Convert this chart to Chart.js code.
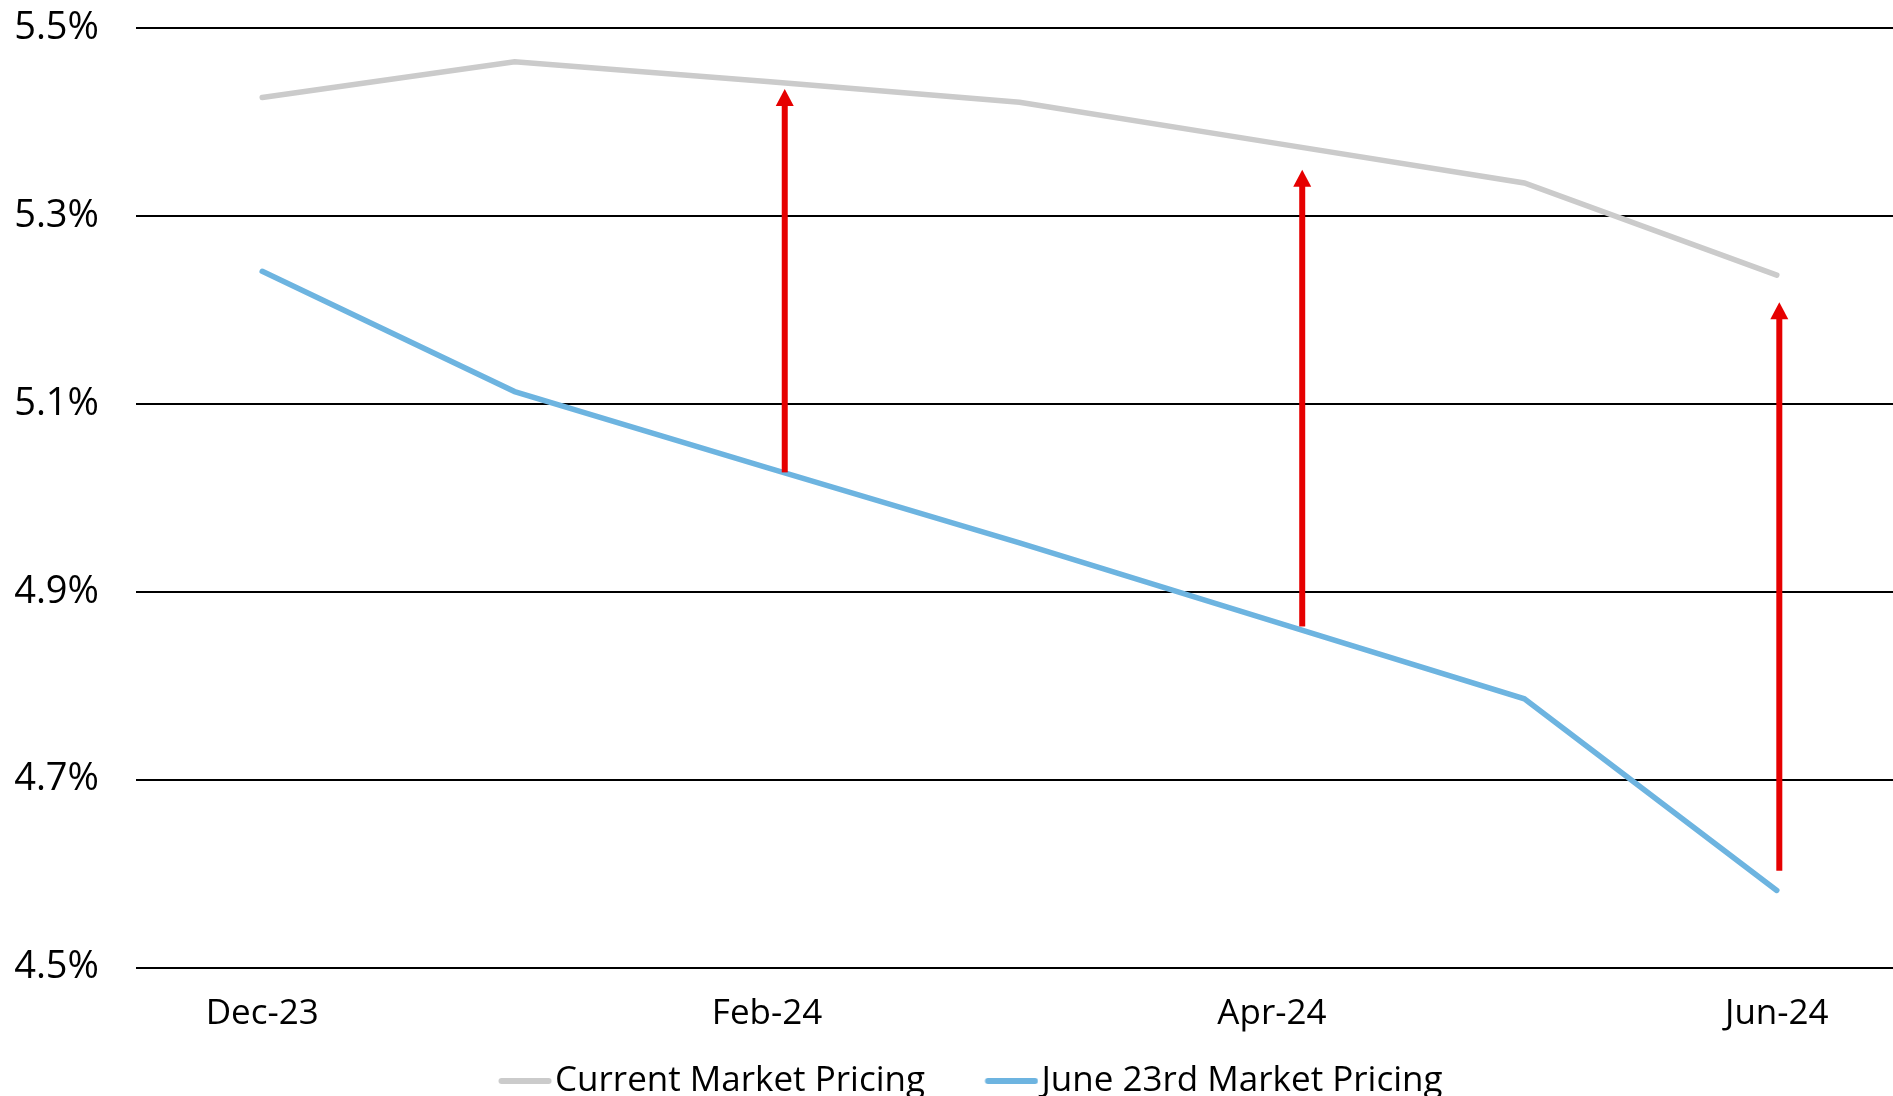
<!DOCTYPE html>
<html>
<head>
<meta charset="utf-8">
<script src="https://cdn.jsdelivr.net/npm/chart.js@4"></script>
<style>
  html, body { margin: 0; padding: 0; background: #fff; overflow: hidden; }
  #wrap { width: 1903px; height: 1096px; }
</style>
</head>
<body>
<div id="wrap"><canvas id="myChart"></canvas></div>
<script>
let labels = ['Dec-23', 'Jan-24', 'Feb-24', 'Mar-24', 'Apr-24', 'May-24', 'Jun-24'];
let currentPricing = [5.426, 5.464, 5.443, 5.421, 5.378, 5.335, 5.237];
let june23Pricing = [5.241, 5.113, 5.032, 4.952, 4.869, 4.786, 4.582];
let yTicks = [4.5, 4.7, 4.9, 5.1, 5.3, 5.5];

// red arrows: position on the category axis, start value, end value
let arrowAt = [2.07, 4.12, 6.01];
let arrowFrom = [5.027, 4.863, 4.603];
let arrowTo = [5.435, 5.349, 5.208];

let font = { family: 'Open Sans', size: 35 };
let leftPad = 10;

// legend swatch: a short line sitting close to its text
function legendLine(color) {
  let c = document.createElement('canvas');
  c.width = 96;
  c.height = 10;
  let g = c.getContext('2d');
  g.strokeStyle = color;
  g.lineWidth = 6;
  g.lineCap = 'round';
  g.beginPath();
  g.moveTo(45.5, 5);
  g.lineTo(92.5, 5);
  g.stroke();
  return c;
}

let arrowPlugin = {
  id: 'arrows',
  afterDatasetsDraw(chart) {
    let ctx = chart.ctx;
    let x = chart.scales.x, y = chart.scales.y;
    ctx.save();
    ctx.fillStyle = '#e60000';
    arrowAt.forEach((pos, i) => {
      let px = x.getPixelForValue(pos);
      let y0 = y.getPixelForValue(arrowFrom[i]);
      let y1 = y.getPixelForValue(arrowTo[i]);
      let head = 17;
      ctx.fillRect(px - 3, y1 + head - 1, 6, y0 - y1 - head + 1);
      ctx.beginPath();
      ctx.moveTo(px, y1);
      ctx.lineTo(px - 9, y1 + head);
      ctx.lineTo(px + 9, y1 + head);
      ctx.closePath();
      ctx.fill();
    });
    ctx.restore();
  }
};

let ctx = document.getElementById('myChart').getContext('2d');
let myChart = new Chart(ctx, {
  type: 'line',
  data: {
    labels: labels,
    datasets: [{
      label: 'Current Market Pricing',
      data: currentPricing,
      borderColor: '#cbcbcb',
      backgroundColor: '#cbcbcb',
      borderWidth: 5.5,
      borderCapStyle: 'round',
      pointRadius: 0,
      pointStyle: legendLine('#cbcbcb'),
      tension: 0
    }, {
      label: 'June 23rd Market Pricing',
      data: june23Pricing,
      borderColor: '#6db4e0',
      backgroundColor: '#6db4e0',
      borderWidth: 5.5,
      borderCapStyle: 'round',
      pointRadius: 0,
      pointStyle: legendLine('#6db4e0'),
      tension: 0
    }]
  },
  options: {
    responsive: true,
    maintainAspectRatio: false,
    animation: false,
    layout: {
      padding: { top: 28, left: leftPad, right: 0, bottom: -12.5 }
    },
    scales: {
      x: {
        offset: true,
        grid: { display: false },
        border: { display: false },
        afterFit: (axis) => {
          axis.height = 64;
          axis.paddingLeft = 0;
          axis.paddingRight = 0;
        },
        ticks: {
          color: '#000',
          font: font,
          padding: 18,
          autoSkip: false,
          maxRotation: 0,
          callback: (v, i) => i % 2 === 0 ? labels[i] : ''
        }
      },
      y: {
        min: 4.5,
        max: 5.5,
        afterBuildTicks: (axis) => {
          axis.ticks = yTicks.map(v => ({ value: v }));
        },
        afterFit: (axis) => {
          axis.width = 136 - leftPad;
          axis.paddingTop = 0;
          axis.paddingBottom = 0;
        },
        grid: { color: '#000', lineWidth: 2, drawTicks: false },
        border: { display: false },
        ticks: {
          color: '#000',
          font: { family: 'Open Sans', size: 38 },
          padding: 37,
          callback: (v) => v.toFixed(1) + '%'
        }
      }
    },
    plugins: {
      legend: {
        position: 'bottom',
        labels: {
          color: '#000',
          font: font,
          usePointStyle: true,
          pointStyleWidth: 67,
          padding: 32
        }
      },
      tooltip: { enabled: false }
    }
  },
  plugins: [arrowPlugin]
});
</script>
</body>
</html>
